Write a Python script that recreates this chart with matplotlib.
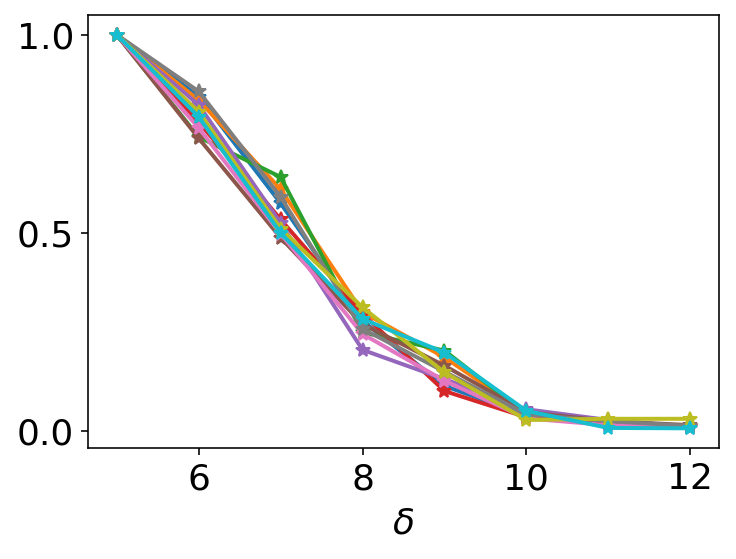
import matplotlib
matplotlib.use("Agg")
import matplotlib.pyplot as plt

delta = [5, 6, 7, 8, 9, 10, 11, 12]

s0 = [1.0, 0.844, 0.575, 0.278, 0.114, 0.040, 0.015, 0.008]  # blue
s1 = [1.0, 0.835, 0.610, 0.300, 0.186, 0.045, 0.022, 0.010]  # orange
s2 = [1.0, 0.742, 0.641, 0.249, 0.203, 0.042, 0.020, 0.012]  # green
s3 = [1.0, 0.780, 0.534, 0.296, 0.101, 0.035, 0.018, 0.012]  # red
s4 = [1.0, 0.823, 0.525, 0.205, 0.131, 0.055, 0.028, 0.010]  # purple
s5 = [1.0, 0.739, 0.488, 0.270, 0.165, 0.048, 0.025, 0.015]  # brown
s6 = [1.0, 0.765, 0.498, 0.245, 0.127, 0.032, 0.015, 0.010]  # pink
s7 = [1.0, 0.857, 0.591, 0.258, 0.150, 0.042, 0.025, 0.013]  # gray
s8 = [1.0, 0.806, 0.511, 0.312, 0.148, 0.028, 0.031, 0.031]  # olive
s9 = [1.0, 0.793, 0.500, 0.283, 0.198, 0.051, 0.008, 0.007]  # cyan

series = [s0, s1, s2, s3, s4, s5, s6, s7, s8, s9]

dpi = 144
fig = plt.figure(figsize=(736 / dpi, 559 / dpi), dpi=dpi)
ax = fig.add_axes([88 / 736, 1 - 448 / 559, (719 - 88) / 736, (448 - 15) / 559])
for s in series:
    ax.plot(delta, s, marker='*', markersize=7, linewidth=2)

ax.set_xticks([6, 8, 10, 12])
ax.set_yticks([0.0, 0.5, 1.0])
ax.tick_params(labelsize=18)
ax.set_xlabel(r'$\delta$', fontsize=18, labelpad=5)
fig.savefig("out.png", dpi=dpi)
